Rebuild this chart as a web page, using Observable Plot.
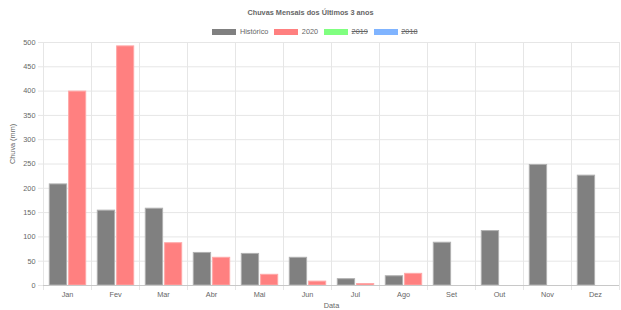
<!DOCTYPE html>
<html>
<head>
<meta charset="utf-8">
<script src="https://cdn.jsdelivr.net/npm/d3@7"></script>
<script src="https://cdn.jsdelivr.net/npm/@observablehq/plot@0.6"></script>
<style>
  html, body { margin: 0; padding: 0; background: #fff; }
  #wrap { position: relative; width: 621px; height: 310px; font-family: "Liberation Sans", Arial, Helvetica, sans-serif; color: #666; }
  #header { position: relative; width: 621px; height: 34px; }
  #title { position: absolute; top: 8px; left: 0; width: 621px; text-align: center; font-size: 7.3px; font-weight: bold; color: #666; line-height: 9px; }
  #legend { position: absolute; top: 28px; left: 0; width: 636px; display: flex; justify-content: center; align-items: center; font-size: 7.3px; line-height: 8px; color: #666; z-index: 2; }
  .item { display: flex; align-items: center; margin-right: 6px; }
  .box { width: 24px; height: 6px; margin-right: 3.5px; box-sizing: border-box; }
  .hidden { text-decoration: line-through; }
  svg { display: block; }
</style>
</head>
<body>
<div id="wrap">
  <div id="header">
    <div id="title"></div>
    <div id="legend"></div>
  </div>
  <div id="chart"></div>
</div>
<script>
const titleText = "Chuvas Mensais dos Últimos 3 anos";
const months = ["Jan","Fev","Mar","Abr","Mai","Jun","Jul","Ago","Set","Out","Nov","Dez"];
const historico = [208, 154, 158, 67, 65, 57, 13, 19, 88, 112, 248, 226];
const chuva2020 = [399, 492, 87, 57, 22, 8, 3, 24, null, null, null, null];
const legendNames = ["Histórico", "2020", "2019", "2018"];
const legendColors = ["#808080", "#ff8080", "#80ff80", "#80b4ff"];
const legendHidden = [false, false, true, true];
const yTicks = [0, 50, 100, 150, 200, 250, 300, 350, 400, 450, 500];
const yLabel = "Chuva (mm)";
const xLabel = "Data";

document.getElementById("title").textContent = titleText;
const legend = document.getElementById("legend");
legendNames.forEach((n, i) => {
  const it = document.createElement("div");
  it.className = "item";
  const b = document.createElement("div");
  b.className = "box";
  b.style.background = legendColors[i];
  const t = document.createElement("span");
  t.textContent = n;
  if (legendHidden[i]) t.className = "hidden";
  it.appendChild(b); it.appendChild(t);
  legend.appendChild(it);
});

const histData = months.map((m, i) => ({month: m, value: historico[i]}));
const data2020 = months.map((m, i) => ({month: m, value: chuva2020[i]})).filter(d => d.value != null);

const grid = "#e6e6e6";
const chart = Plot.plot({
  width: 621,
  height: 276,
  marginTop: 8,
  marginBottom: 25,
  marginLeft: 43,
  marginRight: 2,
  style: {fontFamily: '"Liberation Sans", Arial, Helvetica, sans-serif', fontSize: "7.3px", color: "#666", background: "transparent"},
  x: {domain: months, padding: 0, label: null},
  y: {domain: [0, 500], label: null},
  marks: [
    Plot.gridY(yTicks, {stroke: grid, strokeOpacity: 1}),
    Plot.ruleX(months, {x: d => d, dx: -24, stroke: grid, strokeOpacity: 1, insetBottom: -5}),
    Plot.ruleX([months[months.length - 1]], {x: d => d, dx: 24, stroke: grid, strokeOpacity: 1, insetBottom: -5}),
    Plot.axisY(yTicks, {tickSize: 5, tickPadding: 3, stroke: grid, fill: "#666", label: null}),
    Plot.axisX({tickSize: 0, tickPadding: 6, fill: "#666", label: null}),
    Plot.barY(histData, {x: "month", y: "value", fill: "#808080", stroke: "#b0b0b0", strokeWidth: 1, insetLeft: 6.3, insetRight: 24.4}),
    Plot.barY(data2020, {x: "month", y: "value", fill: "#ff8080", stroke: "#ffa8a8", strokeWidth: 1, insetLeft: 25.6, insetRight: 5.3}),
    Plot.ruleY([0], {stroke: "#c8c8c8"}),
    Plot.text([yLabel], {frameAnchor: "left", rotate: -90, dx: -31, fill: "#666"}),
    Plot.text([xLabel], {frameAnchor: "bottom", dy: 22, fill: "#666"})
  ]
});
document.getElementById("chart").appendChild(chart);
</script>
</body>
</html>
